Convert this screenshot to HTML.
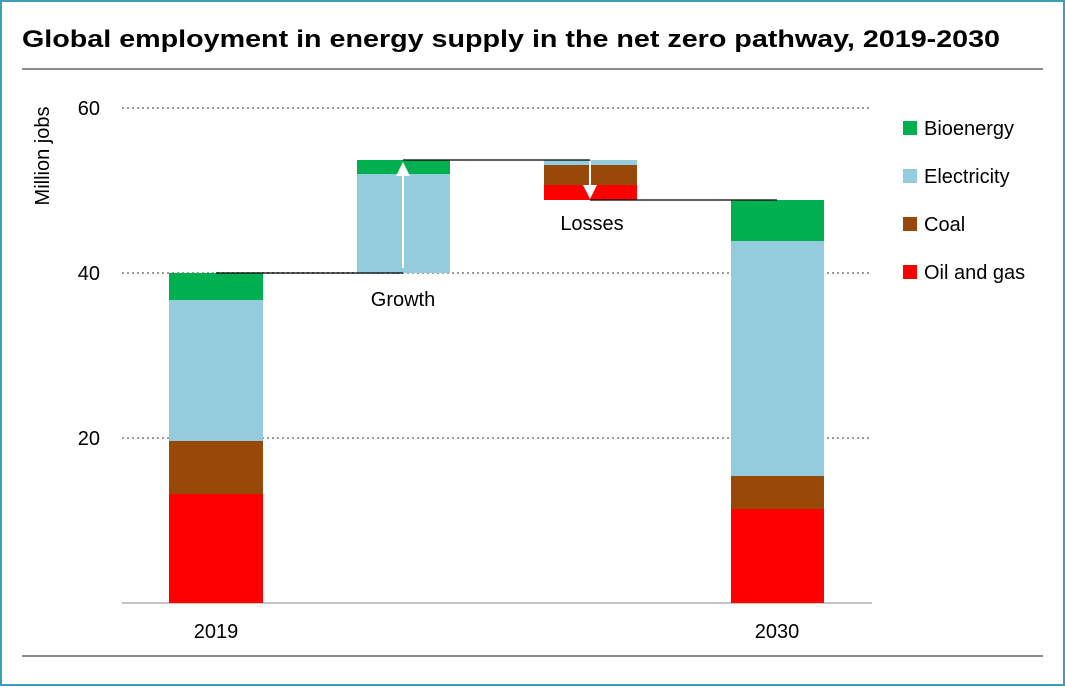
<!DOCTYPE html>
<html><head><style>
body{margin:0;background:#fff}
svg text{font-family:"Liberation Sans",sans-serif}
</style></head><body>
<svg width="1065" height="686" xmlns="http://www.w3.org/2000/svg">
<rect x="1" y="1" width="1063" height="684" fill="#fff" stroke="#3aa0b8" stroke-width="2"/>
<text x="22" y="47" font-size="24" font-weight="bold" fill="#000" textLength="978" lengthAdjust="spacingAndGlyphs">Global employment in energy supply in the net zero pathway, 2019-2030</text>
<line x1="22" y1="69" x2="1043" y2="69" stroke="#8c8c8c" stroke-width="2"/>
<line x1="22" y1="656" x2="1043" y2="656" stroke="#8c8c8c" stroke-width="2"/>
<g stroke="#999" stroke-width="2" stroke-dasharray="2,3">
<line x1="122" y1="108" x2="872" y2="108"/>
<line x1="122" y1="273" x2="872" y2="273"/>
<line x1="122" y1="438" x2="872" y2="438"/>
</g>
<line x1="122" y1="603" x2="872" y2="603" stroke="#888" stroke-width="1"/>
<g font-size="20" fill="#000">
<text x="100" y="115" text-anchor="end">60</text>
<text x="100" y="280" text-anchor="end">40</text>
<text x="100" y="445" text-anchor="end">20</text>
<text x="216" y="638" text-anchor="middle">2019</text>
<text x="777" y="638" text-anchor="middle">2030</text>
<text x="403" y="306" text-anchor="middle">Growth</text>
<text x="592" y="230" text-anchor="middle">Losses</text>
<text transform="translate(49,156) rotate(-90)" text-anchor="middle">Million jobs</text>
</g>
<rect x="169" y="494" width="94" height="109" fill="#ff0000"/>
<rect x="169" y="441" width="94" height="53" fill="#984807"/>
<rect x="169" y="300" width="94" height="141" fill="#93cddd"/>
<rect x="169" y="273" width="94" height="27" fill="#00b050"/>
<rect x="357" y="174" width="93" height="99" fill="#93cddd"/>
<rect x="357" y="160" width="93" height="14" fill="#00b050"/>
<rect x="544" y="160" width="93" height="5" fill="#93cddd"/>
<rect x="544" y="165" width="93" height="20" fill="#984807"/>
<rect x="544" y="185" width="93" height="15" fill="#ff0000"/>
<rect x="731" y="509" width="93" height="94" fill="#ff0000"/>
<rect x="731" y="476" width="93" height="33" fill="#984807"/>
<rect x="731" y="241" width="93" height="235" fill="#93cddd"/>
<rect x="731" y="200" width="93" height="41" fill="#00b050"/>
<g stroke="#000" stroke-width="1.3">
<line x1="216" y1="273" x2="403" y2="273"/>
<line x1="403" y1="160" x2="590" y2="160"/>
<line x1="590" y1="200" x2="777" y2="200"/>
</g>
<line x1="403" y1="268" x2="403" y2="176" stroke="#fff" stroke-width="2"/>
<polygon points="403,162 396,176 410,176" fill="#fff"/>
<line x1="590" y1="161" x2="590" y2="186" stroke="#fff" stroke-width="2"/>
<polygon points="590,199 583,185 597,185" fill="#fff"/>
<rect x="903" y="121" width="14" height="14" fill="#00b050"/>
<rect x="903" y="169" width="14" height="14" fill="#93cddd"/>
<rect x="903" y="217" width="14" height="14" fill="#984807"/>
<rect x="903" y="265" width="14" height="14" fill="#ff0000"/>
<g font-size="20" fill="#000">
<text x="924" y="135">Bioenergy</text>
<text x="924" y="183">Electricity</text>
<text x="924" y="231">Coal</text>
<text x="924" y="279">Oil and gas</text>
</g>
</svg>
</body></html>
